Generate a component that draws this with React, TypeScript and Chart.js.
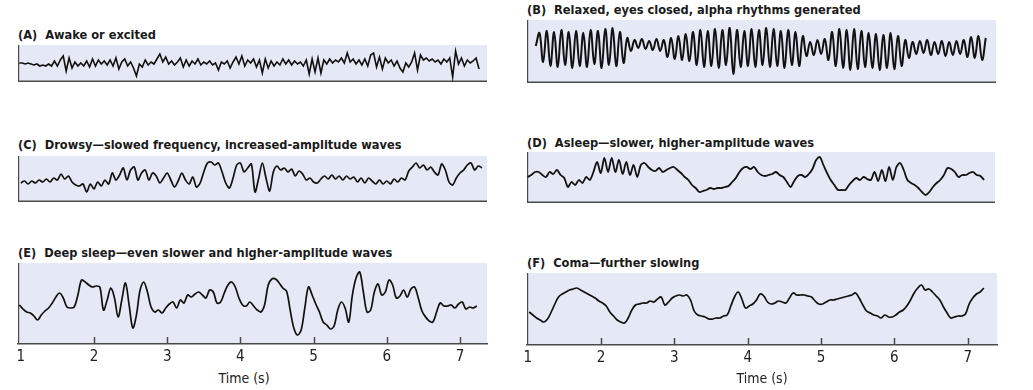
import React, { useEffect, useRef } from "react";
import { Chart, registerables } from "chart.js";

Chart.register(...registerables);

const FONT = "'Liberation Sans Narrow', 'DejaVu Sans Condensed', 'Arial Narrow', sans-serif";
const BG = "#e5e8f5";
const FRAME = "#4a4a4a";
const TRACE = "#111111";

// time axis
const TIME_TICKS = [1, 2, 3, 4, 5, 6, 7];
const TIME_TITLE = "Time (s)";

// panel titles
const TITLE_A = "(A)  Awake or excited";
const TITLE_B = "(B)  Relaxed, eyes closed, alpha rhythms generated";
const TITLE_C = "(C)  Drowsy\u2014slowed frequency, increased-amplitude waves";
const TITLE_D = "(D)  Asleep\u2014slower, higher-amplitude waves";
const TITLE_E = "(E)  Deep sleep\u2014even slower and higher-amplitude waves";
const TITLE_F = "(F)  Coma\u2014further slowing";

// sample start time (s) and sample spacing (s) of each trace
const A_T0 = 0.98, A_DT = 0.04;
const B_T0 = 1.11, B_DT = 0.05;
const C_T0 = 1.0, C_DT = 0.05;
const D_T0 = 1.0, D_DT = 0.05;
const E_T0 = 0.98, E_DT = 0.05;
const F_T0 = 1.02, F_DT = 0.05;

// trace amplitudes (arbitrary units)
const A_VALUES = [
  1, 1, 0, 1, 0, -1, 0, -2, -1, -2,
  0, -2, 3, -2, 4, 8, -7, 6, -4, 2,
  -2, 1, -2, 3, -3, 5, -2, 4, 0, 3,
  -1, 4, -2, 6, -5, 2, 5, -2, 2, -4,
  -12, 0, -3, 4, -1, 2, 0, 5, 10, 2,
  7, 0, 3, -1, 2, 6, -3, 4, -2, 3,
  0, 5, -1, 2, 0, 3, -1, 1, -6, 2,
  0, 3, -4, 2, 7, 0, 8, -2, 4, 1,
  5, -3, 4, -9, 5, -4, 3, -2, 2, -1,
  5, 0, 4, -1, 3, 0, 2, -2, 4, -10,
  5, -8, 6, -9, 4, 0, 5, 1, 4, 2,
  6, 1, 11, 2, 5, 0, 4, -1, 5, -2,
  9, 11, -3, 7, -5, 6, 1, 4, -2, 3,
  -4, -8, 1, -3, 2, 11, -6, 9, 4, 6,
  3, 5, 2, 4, 0, 5, 2, 6, -13, 13,
  0, 6, -2, 4, 1, 3, 6, -5,
];

const B_VALUES = [
  2, 15, -14, 17, -18, 16, -19, 18, -17, 16,
  -20, 17, -18, 15, -19, 18, -16, 17, -20, 19,
  -17, 20, -18, 16, -15, 10, -3, 8, 0, 9,
  -1, 7, -2, 9, -3, 8, -9, 10, -11, 12,
  -12, 14, -13, 16, -17, 18, -19, 17, -18, 19,
  -20, 18, -17, 20, -26, 18, -19, 17, -18, 19,
  -19, 18, -17, 20, -19, 19, -18, 17, -20, 18,
  -17, 16, -18, 12, -8, 6, -7, 8, -6, 9,
  -12, 16, -18, 19, -20, 18, -22, 19, -21, 17,
  -19, 15, -20, 14, -22, 13, -20, 15, -21, 12,
  -18, 8, -10, 6, -6, 7, -5, 8, -7, 6,
  -6, 7, -8, 6, -7, 7, -6, 8, -9, 11,
  -10, 12, -12, 10,
];

const C_VALUES = [
  -3, -1, -4, -1, -3, 0, -2, 1, -2, 2,
  0, 6, 1, 4, -2, -5, -6, -4, -12, -4,
  -9, -2, -6, 0, -4, 7, 0, 5, 12, 0,
  10, 13, 0, 7, 10, 0, 7, 4, -3, 2,
  7, 0, -7, -1, 7, 0, -4, 3, -7, -3,
  8, 17, 18, 15, 17, 8, -3, -8, 2, 15,
  17, 8, 12, 16, -12, 2, 17, 2, -11, 8,
  14, 10, 12, 8, 11, 4, 9, 6, 0, 2,
  -2, -3, 1, 4, 1, 5, 1, 4, 0, 4,
  1, 3, -2, 2, -3, 2, -1, -4, 0, -4,
  -1, -4, 1, -2, 2, 0, 9, 13, 17, 12,
  15, 10, 13, 8, 5, 16, 10, -2, -5, 2,
  7, 10, 15, 17, 10, 14, 12,
];

const D_VALUES = [
  1, 3, 6, 6, 3, 1, 6, 4, 8, 3,
  0, -9, -4, -7, -2, -5, 1, -2, 6, 16,
  5, 20, 6, 20, 6, 18, 4, 16, 3, 13,
  1, 13, 15, 11, 8, 7, 10, 6, 8, 10,
  11, 8, 5, 1, -2, -7, -10, -14, -13, -12,
  -10, -11, -10, -10, -9, -8, -4, 0, 6, 10,
  11, 9, 11, 6, 3, 2, 3, 4, 6, 3,
  1, -4, -9, -3, 2, 3, 1, 4, 9, 18,
  21, 13, 5, -2, -7, -12, -12, -12, -7, -3,
  0, -2, 1, -1, -2, 6, -3, 8, -3, 11,
  -2, 11, 15, 8, -2, -5, -7, -10, -14, -17,
  -14, -9, -5, -2, 3, 10, 9, 6, 1, 3,
  3, 5, 6, 3, 2, -2,
];

const E_VALUES = [
  0, -4, -7, -8, -11, -15, -10, -6, -3, 2,
  8, 12, 7, -2, -3, -2, 10, 25, 23, 20,
  18, 19, 18, -5, 5, 17, 7, -12, 5, 22,
  0, -23, -10, 15, 23, 13, -2, -7, -5, -8,
  -3, 1, 3, -3, 5, 2, 10, 8, 11, 13,
  10, 7, 15, 13, 2, 3, 12, 20, 23, 18,
  7, 0, -1, 3, -1, -5, -7, 0, 20, 26,
  26, 22, 17, 14, -5, -23, -30, -25, -3, 18,
  10, 1, -7, -17, -20, -24, -21, -5, 3, -3,
  -17, 10, 27, 33, 13, -7, -5, 13, 21, 10,
  13, 25, 20, 7, 9, 15, 8, 16, 18, 7,
  -6, -12, -16, -17, -7, 2, -1, -1, 0, -3,
  1, 3, -4, -2, -3, -1,
];

const F_VALUES = [
  -7, -10, -13, -15, -17, -14, -7, 1, 8, 11,
  13, 15, 16, 17, 15, 13, 11, 9, 7, 4,
  2, -1, -7, -11, -15, -17, -18, -13, -5, 0,
  1, 2, 2, 4, 3, 6, 8, 0, 3, 7,
  9, 10, 9, 10, 5, -6, -10, -11, -12, -14,
  -14, -13, -13, -11, -10, -1, 8, 13, 6, -3,
  -1, 1, 5, 11, 9, 3, 1, 2, 4, 3,
  2, 7, 12, 10, 10, 10, 9, 8, 4, 1,
  1, 3, 5, 5, 6, 7, 8, 9, 10, 12,
  7, 0, -6, -8, -10, -11, -13, -10, -12, -12,
  -10, -7, -5, -1, 5, 12, 17, 20, 15, 16,
  13, 9, 5, -2, -8, -13, -12, -11, -11, -9,
  1, 7, 11, 13, 17,
];

const PAD = 14;
const TICK_PAD = 4;
const AXIS_H = 18 + TICK_PAD * 2;

type PanelCfg = {
  title: string;
  values: number[];
  t0: number;
  dt: number;
  xMin: number;
  xMax: number;
  yMin: number;
  yMax: number;
  left: number;
  top: number;
  width: number;
  height: number;
  titleTop: number;
  axis: boolean;
  tension: number;
  lw: number;
};

const LEFT_X = { min: 0.962, max: 7.369 };
const RIGHT_X = { min: 0.99, max: 7.4 };

const PANELS: PanelCfg[] = [
  { title: TITLE_A, values: A_VALUES, t0: A_T0, dt: A_DT, xMin: LEFT_X.min, xMax: LEFT_X.max, yMin: -18, yMax: 19, left: 18, top: 45, width: 469, height: 37, titleTop: 28, axis: false, tension: 0, lw: 1.6 },
  { title: TITLE_B, values: B_VALUES, t0: B_T0, dt: B_DT, xMin: RIGHT_X.min, xMax: RIGHT_X.max, yMin: -35, yMax: 28, left: 527, top: 20, width: 469, height: 63, titleTop: 3, axis: false, tension: 0.4, lw: 2 },
  { title: TITLE_C, values: C_VALUES, t0: C_T0, dt: C_DT, xMin: LEFT_X.min, xMax: LEFT_X.max, yMin: -22, yMax: 24, left: 18, top: 156, width: 469, height: 46, titleTop: 138, axis: false, tension: 0.3, lw: 1.7 },
  { title: TITLE_D, values: D_VALUES, t0: D_T0, dt: D_DT, xMin: RIGHT_X.min, xMax: RIGHT_X.max, yMin: -25, yMax: 26, left: 527, top: 152, width: 468, height: 51, titleTop: 136, axis: false, tension: 0.3, lw: 1.8 },
  { title: TITLE_E, values: E_VALUES, t0: E_T0, dt: E_DT, xMin: LEFT_X.min, xMax: LEFT_X.max, yMin: -39, yMax: 42, left: 18, top: 263, width: 469, height: 81, titleTop: 246, axis: true, tension: 0.35, lw: 1.7 },
  { title: TITLE_F, values: F_VALUES, t0: F_T0, dt: F_DT, xMin: RIGHT_X.min, xMax: RIGHT_X.max, yMin: -40, yMax: 32, left: 527, top: 273, width: 470, height: 72, titleTop: 256, axis: true, tension: 0.4, lw: 1.7 },
];

const framePlugin = {
  id: "panelFrame",
  beforeDraw(chart: any, _args: any, opts: any) {
    const { ctx, chartArea } = chart;
    const { left, top, right, bottom } = chartArea;
    ctx.save();
    ctx.fillStyle = BG;
    ctx.fillRect(left, top, right - left, bottom - top);
    ctx.strokeStyle = FRAME;
    ctx.lineWidth = 1.2;
    ctx.beginPath();
    ctx.moveTo(left + 0.6, top);
    ctx.lineTo(left + 0.6, bottom);
    ctx.stroke();
    if (!opts.axis) {
      ctx.lineWidth = 1.6;
      ctx.beginPath();
      ctx.moveTo(left, bottom - 0.8);
      ctx.lineTo(right, bottom - 0.8);
      ctx.stroke();
    }
    ctx.restore();
  },
  afterDatasetsDraw(chart: any, _args: any, opts: any) {
    if (!opts.axis) return;
    const { ctx, chartArea } = chart;
    const sx = chart.scales.x;
    ctx.save();
    ctx.strokeStyle = FRAME;
    ctx.lineWidth = 1.5;
    TIME_TICKS.forEach((v) => {
      if (v <= 1) return;
      const x = Math.round(sx.getPixelForValue(v)) + 0.5;
      ctx.beginPath();
      ctx.moveTo(x, chartArea.bottom);
      ctx.lineTo(x, chartArea.bottom - 7);
      ctx.stroke();
    });
    ctx.restore();
  },
};

function Panel({ cfg }: { cfg: PanelCfg }) {
  const ref = useRef<HTMLCanvasElement>(null);
  const cw = cfg.width + (cfg.axis ? PAD * 2 : 0);
  const ch = cfg.height + (cfg.axis ? AXIS_H : 0);
  useEffect(() => {
    const points = cfg.values.map((v, i) => ({ x: cfg.t0 + i * cfg.dt, y: v }));
    const chart = new Chart(ref.current as HTMLCanvasElement, {
      type: "line",
      data: {
        datasets: [
          {
            data: points,
            borderColor: TRACE,
            borderWidth: cfg.lw,
            pointRadius: 0,
            tension: cfg.tension,
            fill: false,
          },
        ],
      },
      options: {
        animation: false,
        responsive: false,
        maintainAspectRatio: false,
        events: [],
        layout: { padding: cfg.axis ? { left: PAD, right: PAD, top: 0, bottom: 0 } : 0 },
        plugins: {
          legend: { display: false },
          tooltip: { enabled: false },
          // @ts-ignore
          panelFrame: { axis: cfg.axis },
        },
        scales: {
          x: {
            type: "linear",
            min: cfg.xMin,
            max: cfg.xMax,
            display: cfg.axis,
            afterBuildTicks: (s: any) => {
              s.ticks = TIME_TICKS.map((v) => ({ value: v }));
            },
            grid: { display: false, drawTicks: false },
            border: { display: true, color: FRAME, width: 1.5 },
            ticks: {
              font: { family: FONT, size: 15 },
              color: "#222",
              padding: TICK_PAD,
              maxRotation: 0,
              autoSkip: false,
            },
          },
          y: { display: false, min: cfg.yMin, max: cfg.yMax },
        },
      } as any,
      plugins: [framePlugin as any],
    });
    return () => chart.destroy();
  }, []);
  return (
    <>
      <div
        style={{
          position: "absolute",
          left: cfg.left,
          top: cfg.titleTop,
          fontFamily: FONT,
          fontWeight: "bold",
          fontSize: 12.7,
          lineHeight: "13px",
          color: "#1a1a1a",
          whiteSpace: "pre",
        }}
      >
        {cfg.title}
      </div>
      <div
        style={{
          position: "absolute",
          left: cfg.left - (cfg.axis ? PAD : 0),
          top: cfg.top,
          width: cw,
          height: ch,
        }}
      >
        <canvas ref={ref} width={cw} height={ch} style={{ width: cw, height: ch, display: "block" }} />
      </div>
    </>
  );
}

export default function App() {
  return (
    <div
      style={{
        position: "absolute",
        left: 0,
        top: 0,
        width: 1033,
        height: 390,
        background: "#ffffff",
        overflow: "hidden",
      }}
    >
      {PANELS.map((p, i) => (
        <Panel key={i} cfg={p} />
      ))}
      <div style={{ position: "absolute", left: 194, top: 371, width: 100, textAlign: "center", fontFamily: FONT, fontSize: 14, lineHeight: "14px", color: "#222" }}>
        {TIME_TITLE}
      </div>
      <div style={{ position: "absolute", left: 712, top: 371, width: 100, textAlign: "center", fontFamily: FONT, fontSize: 14, lineHeight: "14px", color: "#222" }}>
        {TIME_TITLE}
      </div>
    </div>
  );
}
